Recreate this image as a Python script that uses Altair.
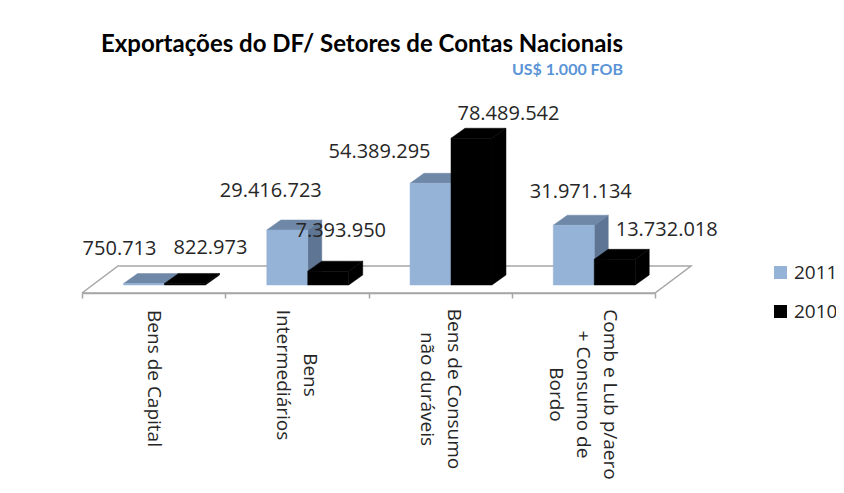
import altair as alt
import pandas as pd

# ---- chart values ----
category_lines = [
    ["Bens de Capital"],
    ["Bens", "Intermediários"],
    ["Bens de Consumo", "não duráveis"],
    ["Comb e Lub p/aero", "+ Consumo de", "Bordo"],
]
series_names = ["2011", "2010"]
values_2011 = [750713, 29416723, 54389295, 31971134]
values_2010 = [822973, 7393950, 78489542, 13732018]
value_labels_2011 = ["750.713", "29.416.723", "54.389.295", "31.971.134"]
value_labels_2010 = ["822.973", "7.393.950", "78.489.542", "13.732.018"]

# ---- layout ----
PLOT_W, PLOT_H = 573, 187
Y_MAX = 100e6
PX_X = PLOT_W / 4
PX_Y = PLOT_H / Y_MAX
GROUP_START, BAR_W = 0.29, 0.286
DEPTH_X, DEPTH_Y = 14 / PX_X, 10 / PX_Y
FLOOR_FRONT, FLOOR_BACK = -8 / PX_Y, 19 / PX_Y
FLOOR_SHIFT = 36 / PX_X
LABEL_FONT = "Open Sans"
# label displacement from bar-top centre, in pixels (dx, dy)
nudge_2011 = [(-24.5, -35), (-16.5, -39), (-51, -31), (7, -33)]
nudge_2010 = [(25.5, -35), (12.5, -40), (37, -24), (52, -29)]
# distance of each category label's middle below the bar base, in pixels
cat_mid = [93.5, 90, 104, 109.5]
LINE_STEP = 27

front, side, top, labels = [], [], [], []
series = [
    (series_names[0], values_2011, value_labels_2011, nudge_2011),
    (series_names[1], values_2010, value_labels_2010, nudge_2010),
]
for j, (name, vals, texts, nudges) in enumerate(series):
    for i, (v, t, (nx, ny)) in enumerate(zip(vals, texts, nudges)):
        xl = i + GROUP_START + j * BAR_W
        xr = xl + BAR_W
        front.append(dict(s=name, j=j, x=xl, x2=xr, y=v, y0=0))
        key = f"{name}-{i}"
        side += [
            dict(s=name, k=key, x=xr, y=0, y2=v),
            dict(s=name, k=key, x=xr + DEPTH_X, y=DEPTH_Y, y2=v + DEPTH_Y),
        ]
        top += [
            dict(s=name, k=key, x=xl, y=v, y2=v),
            dict(s=name, k=key, x=xl + DEPTH_X, y=v, y2=v + DEPTH_Y),
            dict(s=name, k=key, x=xr, y=v, y2=v + DEPTH_Y),
            dict(s=name, k=key, x=xr + DEPTH_X, y=v + DEPTH_Y, y2=v + DEPTH_Y),
        ]
        labels.append(dict(t=t, x=(xl + xr) / 2 + nx / PX_X, y=v - ny / PX_Y))

front, side, top = map(pd.DataFrame, (front, side, top))
labels = pd.DataFrame(labels)

cat_rows = []
for i, lines in enumerate(category_lines):
    n = len(lines)
    for li, line in enumerate(lines):
        cat_rows.append(dict(
            t=line,
            x=i + 0.5 + ((n - 1) / 2 - li) * LINE_STEP / PX_X,
            y=-cat_mid[i] / PX_Y,
        ))
cat_text = pd.DataFrame(cat_rows)

floor = pd.DataFrame([
    dict(o=0, x=0, y=FLOOR_FRONT),
    dict(o=1, x=4, y=FLOOR_FRONT),
    dict(o=2, x=4 + FLOOR_SHIFT, y=FLOOR_BACK),
    dict(o=3, x=FLOOR_SHIFT, y=FLOOR_BACK),
    dict(o=4, x=0, y=FLOOR_FRONT),
])

xs = alt.Scale(domain=[0, 4], nice=False, zero=False)
ys = alt.Scale(domain=[0, Y_MAX], nice=False)
x_axis = alt.Axis(
    values=[0, 1, 2, 3, 4], labels=False, grid=False, offset=8, tickSize=5,
    tickColor="#a6a6a6", domainColor="#a6a6a6", tickWidth=1.5, domainWidth=1.5)
X = alt.X("x:Q", scale=xs, title=None, axis=x_axis)
Y = alt.Y("y:Q", scale=ys, axis=None)

floor_layer = alt.Chart(floor).mark_line(color="#a6a6a6", strokeWidth=1.5, clip=False).encode(
    x=X, y=Y, order="o:Q")

color_scale = alt.Scale(domain=series_names, range=["#95B3D7", "#000000"])
side_colors = {"2011": "#5E7694", "2010": "#000000"}
top_colors = {"2011": "#6F88A8", "2010": "#000000"}

def series_layers(name):
    s_side = alt.Chart(side[side.s == name]).mark_area(
        color=side_colors[name], stroke=side_colors[name], strokeWidth=0.5, interpolate="linear").encode(
        x=X, y=Y, y2="y2:Q", detail="k:N")
    s_top = alt.Chart(top[top.s == name]).mark_area(
        color=top_colors[name], stroke=top_colors[name], strokeWidth=0.5, interpolate="linear").encode(
        x=X, y=Y, y2="y2:Q", detail="k:N")
    s_front = alt.Chart(front[front.s == name]).mark_rect(strokeWidth=0.5).encode(
        x=X, x2="x2:Q", y=Y, y2="y0:Q",
        stroke=alt.Stroke("s:N", scale=color_scale, sort=series_names, legend=None),
        color=alt.Color("s:N", scale=color_scale, sort=series_names, title=None, legend=alt.Legend(
            orient="none", legendX=689, legendY=165, symbolType="square", symbolSize=170,
            symbolStrokeWidth=0, labelFontSize=19, labelFont=LABEL_FONT, labelColor="#262626",
            rowPadding=19, labelOffset=4, symbolOpacity=1)),
    )
    return [s_side, s_top, s_front]

value_text = alt.Chart(labels).mark_text(
    font=LABEL_FONT, fontSize=20, color="#262626", baseline="middle", align="center", clip=False
).encode(x=X, y=Y, text="t:N")

cat_layer = alt.Chart(cat_text).mark_text(
    font=LABEL_FONT, fontSize=19, color="#262626", baseline="middle", align="center", angle=90, clip=False
).encode(x=X, y=Y, text="t:N")

chart = alt.layer(
    floor_layer,
    *series_layers("2011"), *series_layers("2010"),
    value_text, cat_layer,
).properties(
    width=PLOT_W, height=PLOT_H,
    title=alt.TitleParams(
        text="Exportações do DF/ Setores de Contas Nacionais",
        subtitle="US$ 1.000 FOB",
        anchor="end", frame="group", dx=-32, offset=20,
        font="Lato", fontSize=24, fontWeight="bold", color="#000000",
        subtitleFont="Lato", subtitleFontSize=16, subtitleFontWeight="bold",
        subtitleColor="#5B94D6", subtitlePadding=5,
    ),
    autosize=alt.AutoSizeParams(type="none", contains="content"),
    padding={"left": 74, "top": 90, "right": 181, "bottom": 200},
    background="#ffffff",
).configure_view(strokeWidth=0)

chart.save("out.html", embed_options={"renderer": "svg", "actions": False})
